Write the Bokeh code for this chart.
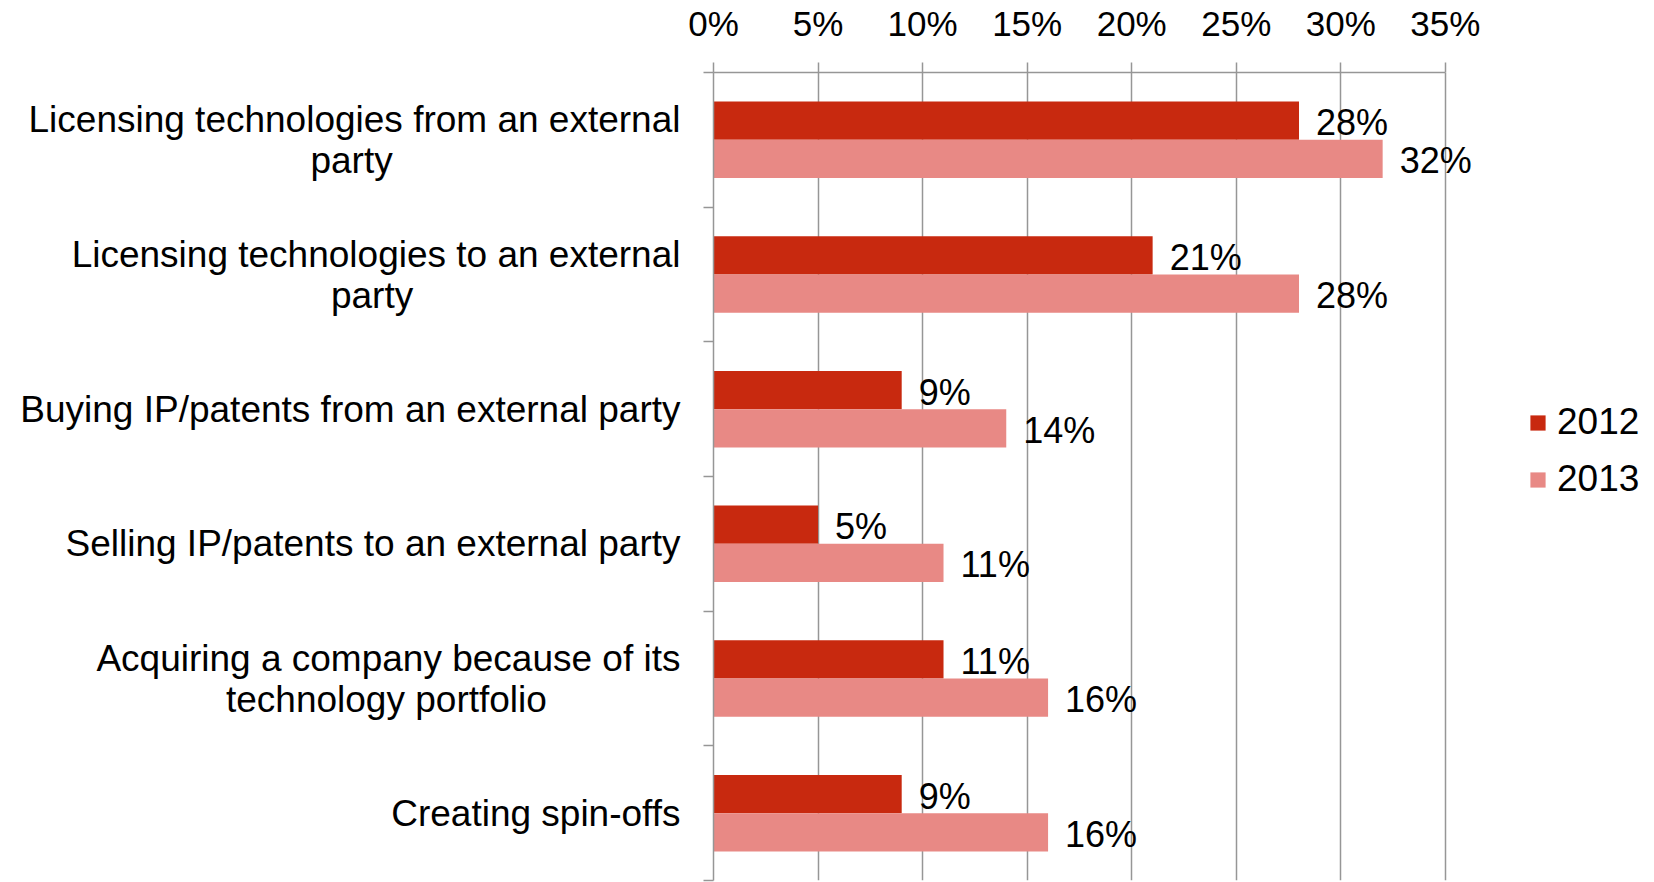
from bokeh.plotting import figure
from bokeh.models import (Range1d, FixedTicker, PrintfTickFormatter, ColumnDataSource,
                          LabelSet, Legend, LegendItem)
from bokeh.core.properties import value
from bokeh.transform import dodge
from bokeh.embed import file_html
from bokeh.resources import INLINE

categories = [
    "Licensing technologies from an external\nparty",
    "Licensing technologies to an external\nparty",
    "Buying IP/patents from an external party",
    "Selling IP/patents to an external party",
    "Acquiring a company because of its\ntechnology portfolio",
    "Creating spin-offs",
]
values_2012 = [28, 21, 9, 5, 11, 9]
values_2013 = [32, 28, 14, 11, 16, 16]
years = ["2012", "2013"]
x_ticks = [0, 5, 10, 15, 20, 25, 30, 35]

C12 = "#C8290F"
C13 = "#E88985"
GRID = "#969696"
FONT = "Liberation Sans"

# Arial/Liberation Sans advance widths (1/1000 em) used to centre the second
# line of a wrapped category label under its first line (Bokeh right-aligns lines).
_W = {" ": 278, "A": 667, "L": 556, "a": 556, "b": 556, "c": 500, "e": 556, "f": 278,
      "g": 556, "h": 556, "i": 222, "l": 222, "m": 833, "n": 556, "o": 556, "p": 556,
      "q": 556, "r": 333, "s": 500, "t": 278, "u": 556, "x": 500, "y": 500}


def _width(s):
    return sum(_W.get(ch, 556) for ch in s)


def centre_lines(label):
    lines = label.split("\n")
    if len(lines) == 1:
        return label
    wmax = max(_width(l) for l in lines)
    out = []
    for l in lines:
        pad = round((wmax - _width(l)) / 2 / 278)
        out.append(l + "\u00a0" * pad)
    return "\n".join(out)


n = len(categories)
centers = [i + 0.5 for i in range(n)]
src = ColumnDataSource(dict(
    cat=categories, y=centers, v12=values_2012, v13=values_2013,
    l12=[f"{v}%" for v in values_2012], l13=[f"{v}%" for v in values_2013],
))

p = figure(width=1654, height=882, x_range=Range1d(0, 45), y_range=Range1d(n, 0),
           x_axis_location="above", output_backend="svg", toolbar_location=None,
           min_border_left=713, min_border_right=0, min_border_top=70,
           min_border_bottom=2, outline_line_color=None)

bh = 0.284
off = bh / 2
r1 = p.hbar(y=dodge("y", -off), left=0, right="v12", height=bh, fill_color=C12,
            line_color=None, source=src)
r2 = p.hbar(y=dodge("y", off), left=0, right="v13", height=bh, fill_color=C13,
            line_color=None, source=src)

# x axis (top)
xa = p.xaxis[0]
xa.ticker = FixedTicker(ticks=x_ticks, minor_ticks=[])
xa.bounds = (x_ticks[0], x_ticks[-1])
xa.formatter = PrintfTickFormatter(format="%d%%")
xa.axis_line_color = GRID
xa.axis_line_width = 1.5
xa.major_tick_line_color = GRID
xa.major_tick_line_width = 1.5
xa.major_tick_out = 10
xa.major_tick_in = 0
xa.minor_tick_line_color = None
xa.major_label_text_font = FONT
xa.major_label_text_font_size = "35px"
xa.major_label_text_color = "black"
xa.major_label_standoff = 20

p.xgrid.ticker = FixedTicker(ticks=x_ticks)
p.xgrid.grid_line_color = GRID
p.xgrid.grid_line_width = 1.5
p.ygrid.visible = False

# y axis (left)
ya = p.yaxis[0]
ya.ticker = FixedTicker(ticks=centers, minor_ticks=list(range(n + 1)))
ya.major_label_overrides = {c: centre_lines(cat) for c, cat in zip(centers, categories)}
ya.axis_line_color = GRID
ya.axis_line_width = 1.5
ya.major_tick_line_color = None
ya.major_tick_out = 0
ya.major_tick_in = 0
ya.minor_tick_line_color = GRID
ya.minor_tick_line_width = 1.5
ya.minor_tick_out = 10
ya.minor_tick_in = 0
ya.major_label_text_font = FONT
ya.major_label_text_font_size = "37px"
ya.major_label_text_line_height = 1.0
ya.major_label_text_color = "black"
ya.major_label_standoff = 23

lab1 = LabelSet(x="v12", y=dodge("y", -off), text="l12", x_offset=17, y_offset=-2,
                text_baseline="middle", text_font=value(FONT), text_font_size="36px",
                text_color="black", source=src)
lab2 = LabelSet(x="v13", y=dodge("y", off), text="l13", x_offset=17, y_offset=-2,
                text_baseline="middle", text_font=value(FONT), text_font_size="36px",
                text_color="black", source=src)
p.add_layout(lab1)
p.add_layout(lab2)

legend = Legend(items=[LegendItem(label=years[0], renderers=[r1]),
                       LegendItem(label=years[1], renderers=[r2])],
                location=(815, 380), orientation="vertical",
                glyph_width=19, glyph_height=19, label_height=19,
                label_standoff=10, spacing=15, padding=0, margin=0,
                border_line_color=None, background_fill_alpha=0,
                label_text_font=FONT, label_text_font_size="37px",
                label_text_color="black")
p.add_layout(legend)

open("out.html", "w").write(file_html(p, INLINE))
